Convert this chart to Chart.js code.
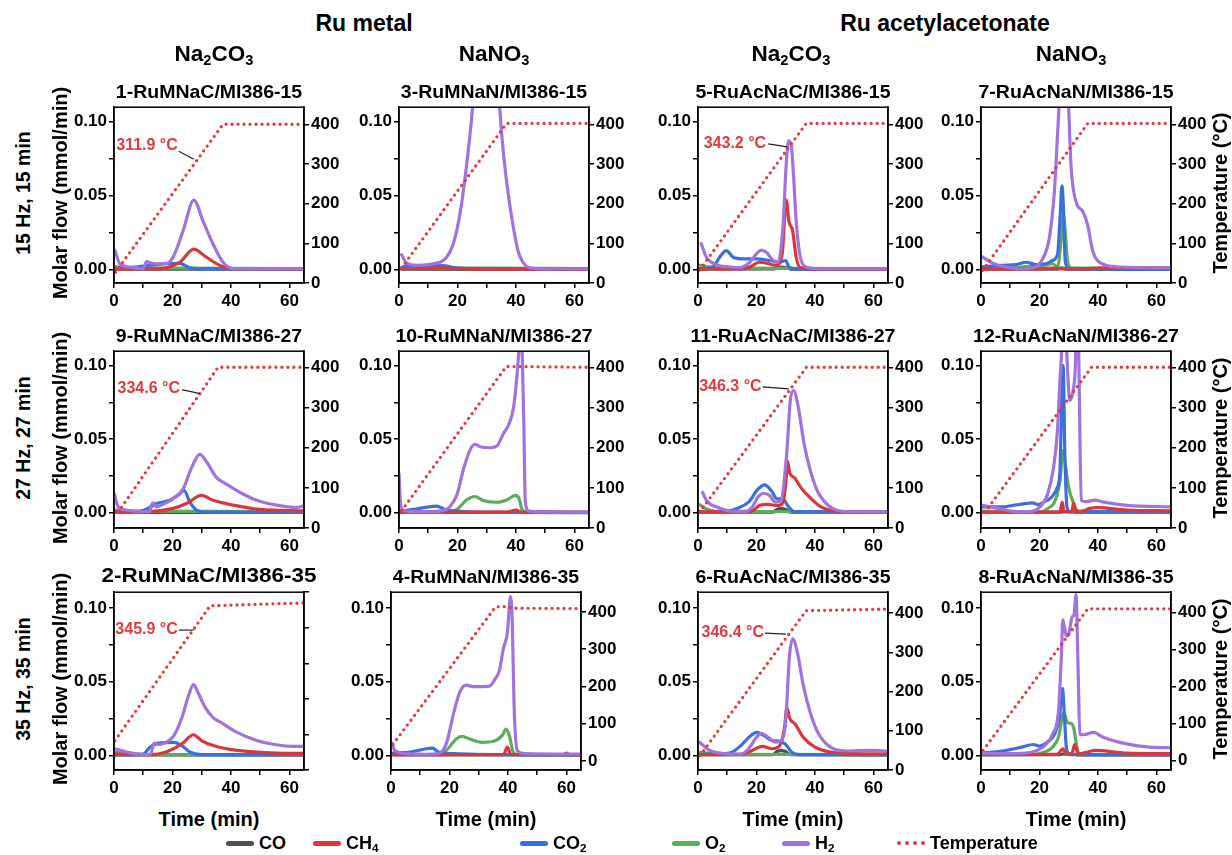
<!DOCTYPE html>
<html><head><meta charset="utf-8">
<script src="https://cdn.jsdelivr.net/npm/chart.js@4.4.1/dist/chart.umd.min.js"></script>
<style>
html,body{margin:0;padding:0;background:#fff;}
body{width:1232px;height:855px;position:relative;overflow:hidden;font-family:'Liberation Sans',Arial,sans-serif;font-weight:bold;color:#000;}
.tx{position:absolute;white-space:nowrap;line-height:1;}
.sb{font-size:0.65em;position:relative;top:0.28em;}
.wrap{position:absolute;}
.lg{position:absolute;height:5px;border-radius:3px;}
</style></head><body>
<script>
// ---------------- DATA ----------------
const timeTicks = [0, 20, 40, 60];
const flowTicks = [0.00, 0.05, 0.10];
const tempTicks = [0, 100, 200, 300, 400];
const seriesNames = ['CO', 'CH4', 'CO2', 'O2', 'H2', 'Temperature'];

const panelGrid = [['s1','s3','s5','s7'],['s9','s10','s11','s12'],['s2','s4','s6','s8']];
const panelTitles = {s1:'1-RuMNaC/MI386-15', s3:'3-RuMNaN/MI386-15', s5:'5-RuAcNaC/MI386-15', s7:'7-RuAcNaN/MI386-15',
  s9:'9-RuMNaC/MI386-27', s10:'10-RuMNaN/MI386-27', s11:'11-RuAcNaC/MI386-27', s12:'12-RuAcNaN/MI386-27',
  s2:'2-RuMNaC/MI386-35', s4:'4-RuMNaN/MI386-35', s6:'6-RuAcNaC/MI386-35', s8:'8-RuAcNaN/MI386-35'};
const rowLabels = ['15 Hz, 15 min', '27 Hz, 27 min', '35 Hz, 35 min'];
const groupLabels = ['Ru metal', 'Ru acetylacetonate'];
const saltLabels = ['Na<span class="sb">2</span>CO<span class="sb">3</span>', 'NaNO<span class="sb">3</span>', 'Na<span class="sb">2</span>CO<span class="sb">3</span>', 'NaNO<span class="sb">3</span>'];

// left-axis (molar flow) range per row, right-axis (temperature) range per panel
const flowMin = [-0.009, -0.0104, -0.0100];
const flowMax = [0.1097, 0.1097, 0.1106];
const tempMin = {s1:0,s3:0,s5:0,s7:0, s9:0,s10:0,s11:0,s12:0, s2:-46,s4:-24,s6:0,s8:-25};
const tempMax = {s1:443,s3:443,s5:443,s7:443, s9:440,s10:440,s11:440,s12:440, s2:452,s4:453,s6:453,s8:455};

// annotated temperature at H2 peak
const annSample = ['s1','s5','s9','s11','s2','s6'];
const annTime   = [27.3, 30.5, 29.4, 31.0, 27.3, 30.1];
const annTemp   = [311.9, 343.2, 334.6, 346.3, 345.9, 346.4];

// ---- 1-RuMNaC/MI386-15
const s1_CO  = [[0.3,0.0004],[65,0.0003]];
const s1_CH4 = [[0.3,0.0005],[15,0.0005],[18,0.0013],[22.5,0.005],[27.3,0.0139],[31.6,0.0084],[36.2,0.0029],[40.8,0.0007],[65,0.0005]];
const s1_CO2 = [[0.3,0.0008],[6,0.0015],[12.2,0.003],[18,0.004],[22.5,0.0042],[25.9,0.0013],[30,0.0005],[65,0.0004]];
const s1_O2  = [[0.3,0.002],[5,0.0012],[65,0.0008]];
const s1_H2  = [[0.3,0.0132],[2,0.004],[6.5,0.0015],[10,0.0008],[11.1,0.0055],[12.5,0.0045],[14.5,0.004],[18,0.0042],[20.2,0.0084],[23.6,0.026],[27.3,0.047],[30.5,0.0326],[33.9,0.0172],[37.3,0.005],[40.8,0.0007],[65,0.0007]];
const s1_T   = [[0.5,27],[37.3,400],[65,400]];
// ---- 3-RuMNaN/MI386-15
const s3_CO  = [[0.9,0.0003],[65,0.0002]];
const s3_CH4 = [[0.9,0.0005],[15,0.0012],[20,0.0008],[25,0.0004],[65,0.0003]];
const s3_CO2 = [[0.9,0.0015],[3,0.0028],[10,0.003],[16,0.0026],[20,0.001],[30,0.0006],[65,0.0005]];
const s3_O2  = [[0.9,0.0012],[65,0.0008]];
const s3_H2  = [[0.9,0.0101],[2.6,0.0044],[6,0.0029],[9.4,0.0033],[11.7,0.004],[14,0.005],[16.3,0.0084],[18.5,0.017],[20.8,0.037],[23.1,0.07],[25.1,0.108],[27,0.16],[30,0.2],[33,0.16],[34.5,0.108],[35.6,0.081],[37.3,0.052],[39,0.03],[40.7,0.0128],[42.4,0.005],[44.7,0.0013],[50,0.0006],[65,0.0005]];
const s3_T   = [[0.9,38],[36.8,402],[65,402]];
// ---- 5-RuAcNaC/MI386-15
const s5_CO  = [[0.6,0.0003],[26,0.0005],[28.5,0.0018],[30.5,0.0012],[32,0.0003],[65,0.0002]];
const s5_CH4 = [[0.6,0.0005],[15,0.0006],[17.7,0.0018],[21,0.005],[23.4,0.0044],[26.8,0.0029],[28.8,0.0106],[30.2,0.047],[31.1,0.0326],[32.3,0.027],[33.6,0.0084],[35,0.0013],[40,0.0005],[65,0.0004]];
const s5_CO2 = [[0.6,0.0007],[5.1,0.0018],[7.4,0.0084],[9.7,0.0128],[12,0.0084],[15.4,0.0073],[20,0.0073],[24.5,0.0062],[27.9,0.005],[30,0.0062],[31.1,0.0018],[33.6,0.0004],[65,0.0003]];
const s5_O2  = [[0.6,0.003],[4,0.0018],[8,0.001],[65,0.0007]];
const s5_H2  = [[1.1,0.0176],[2.9,0.0084],[6.3,0.0033],[10.8,0.0018],[14.3,0.0013],[17.7,0.005],[20,0.0106],[21.7,0.0132],[23.4,0.0117],[25.7,0.0062],[27.4,0.005],[29.1,0.03],[30.2,0.072],[31,0.087],[31.9,0.084],[32.7,0.063],[33.6,0.0326],[34.8,0.0106],[36.5,0.0022],[40.5,0.0007],[65,0.0006]];
const s5_T   = [[0.6,33],[37,402],[65,402]];
// ---- 7-RuAcNaN/MI386-15
const s7_CO  = [[0.3,0.0003],[26,0.0004],[27.5,0.0012],[29,0.0003],[65,0.0002]];
const s7_CH4 = [[0.3,0.0004],[20,0.0006],[24.5,0.0011],[27,0.0006],[35,0.0005],[42,0.0012],[55,0.0013],[65,0.0012]];
const s7_CO2 = [[0.3,0.0018],[7.4,0.0029],[12,0.0035],[15.4,0.005],[18.8,0.0035],[22.2,0.004],[24.5,0.0062],[26.2,0.0106],[27.1,0.037],[27.7,0.0566],[28.3,0.037],[28.8,0.006],[30.2,0.0004],[65,0.0003]];
const s7_O2  = [[0.3,0.002],[7.4,0.0013],[15.4,0.002],[21.1,0.0029],[24.5,0.004],[26.2,0.0018],[27.4,0.0195],[28.2,0.037],[28.8,0.026],[29.6,0.0062],[30.8,0.0013],[35,0.001],[65,0.0008]];
const s7_H2  = [[0.3,0.0088],[4,0.0044],[8.6,0.0018],[13.1,0.0004],[17.7,0.0013],[21.1,0.0073],[23.4,0.0217],[25.1,0.0527],[26.2,0.092],[26.8,0.115],[28.3,0.2],[29.9,0.115],[30.8,0.07],[32.5,0.046],[34.8,0.0394],[36.5,0.03],[38.2,0.0128],[41,0.0044],[47.3,0.0018],[65,0.0011]];
const s7_T   = [[0.6,32],[36.5,402],[65,402]];
// ---- 9-RuMNaC/MI386-27
const s9_CO  = [[0.2,0.0003],[65,0.0002]];
const s9_CH4 = [[0.2,0.0005],[12,0.0005],[13.4,0.0007],[20.2,0.0029],[24.8,0.0062],[29.9,0.0117],[33.9,0.0084],[40.8,0.0051],[49.9,0.0022],[65,0.0013]];
const s9_CO2 = [[0.2,0.0007],[8.8,0.0009],[12.2,0.0035],[14.5,0.0062],[19.1,0.0084],[22.5,0.0128],[24,0.015],[25.9,0.0073],[28.2,0.0018],[31.6,0.0004],[65,0.0003]];
const s9_O2  = [[0.2,0.002],[4,0.001],[65,0.0007]];
const s9_H2  = [[0.2,0.0123],[1.4,0.004],[4.2,0.0018],[8.8,0.0007],[12.2,0.0007],[12.8,0.0051],[13.6,0.0066],[14.5,0.004],[16.8,0.0057],[20.2,0.0095],[23.6,0.016],[26.5,0.0304],[29.4,0.0396],[31.6,0.0348],[35.1,0.0238],[38.5,0.0194],[43,0.0139],[48.8,0.0084],[55.6,0.0051],[62.5,0.0035],[65,0.0046]];
const s9_T   = [[1.4,39],[35.6,400],[65,400]];
// ---- 10-RuMNaN/MI386-27
const s10_CO  = [[0,0.0002],[65,0.0002]];
const s10_CH4 = [[0,0.0003],[37,0.0004],[40,0.0018],[42,0.0004],[65,0.0003]];
const s10_CO2 = [[0.5,0.0011],[4.9,0.0022],[9.5,0.0038],[12.9,0.0044],[15.8,0.0022],[19.8,0.0011],[33.5,0.0002],[65,0.0001]];
const s10_O2  = [[0,0.0005],[16.4,0.0003],[19.8,0.0022],[23.2,0.0088],[25.9,0.011],[28.9,0.0082],[33.5,0.0071],[37,0.0088],[39.8,0.0117],[41,0.0099],[42.1,0.0022],[43.8,0.0002],[65,0.0002]];
const s10_H2  = [[0,0.0265],[0.6,0.0044],[2.6,0.0011],[8.4,0.0007],[14.1,0.0011],[17.5,0.0044],[19.8,0.0121],[22.1,0.0298],[24.4,0.043],[26.1,0.0464],[27.8,0.0448],[31.2,0.0441],[33.5,0.0453],[35.8,0.054],[37.5,0.0596],[39.2,0.0717],[40.4,0.0938],[41.1,0.112],[41.6,0.125],[42.1,0.112],[42.7,0.0607],[43.2,0.0077],[44.4,0.0011],[50,0.0005],[65,0.0004]];
const s10_T   = [[0.9,43],[36.7,402],[65,400]];
// ---- 11-RuAcNaC/MI386-27
const s11_CO  = [[0.5,0.0003],[25.5,0.0004],[27,0.0022],[28.5,0.0028],[30,0.0022],[31.5,0.0004],[65,0.0002]];
const s11_CH4 = [[0.5,0.0005],[15,0.0005],[18.6,0.0013],[21.2,0.005],[23.8,0.0057],[27.1,0.0048],[29,0.0066],[30.1,0.0215],[30.6,0.0351],[31.4,0.027],[33,0.0237],[35.6,0.016],[38.2,0.0105],[42.1,0.0039],[46,0.0013],[55,0.0005],[65,0.0004]];
const s11_CO2 = [[0.5,0.0007],[9.4,0.0009],[13.3,0.0029],[17.3,0.0072],[20.5,0.016],[22.8,0.0189],[25.1,0.0149],[27.1,0.0094],[29,0.0094],[31,0.0039],[33,0.0007],[65,0.0004]];
const s11_O2  = [[0.5,0.0055],[2.9,0.0026],[6.8,0.0008],[65,0.0005]];
const s11_H2  = [[1.6,0.0138],[2.9,0.0083],[6.8,0.0035],[12,0.0009],[16,0.0009],[18.6,0.0039],[20.5,0.0105],[22.5,0.0132],[24.5,0.0116],[26.4,0.0072],[28.4,0.0083],[30.3,0.039],[31.7,0.0785],[32.7,0.0829],[34.3,0.0719],[36.2,0.0478],[38.2,0.0303],[40.8,0.0149],[43.4,0.0072],[46,0.0029],[50,0.0007],[65,0.0006]];
const s11_T   = [[0.5,39],[37.1,400],[65,400]];
// ---- 12-RuAcNaN/MI386-27
const s12_CO  = [[0.4,0.0003],[27,0.0004],[28.5,0.0008],[31,0.0006],[33,0.0003],[65,0.0002]];
const s12_CH4 = [[0.4,0.0004],[27,0.0005],[27.8,0.0072],[28.4,0.0006],[31,0.0006],[31.7,0.0066],[32.4,0.0006],[35,0.0012],[37.2,0.0029],[39.8,0.0035],[50,0.0018],[65,0.0013]];
const s12_CO2 = [[0.4,0.0039],[7.2,0.0039],[11.1,0.005],[15,0.0061],[17.6,0.0066],[19.6,0.0055],[21.5,0.0072],[24.1,0.0105],[26.1,0.0171],[27,0.028],[27.7,0.083],[28.1,0.1],[28.7,0.039],[29.4,0.0039],[30.5,0.0007],[65,0.0004]];
const s12_O2  = [[0.4,0.001],[20,0.0005],[22.8,0.0029],[25.4,0.0083],[27,0.0215],[28.1,0.0423],[29,0.0303],[30,0.0171],[31.3,0.0083],[32.6,0.0022],[34.6,0.0005],[65,0.0004]];
const s12_H2  = [[0.4,0.005],[5.9,0.0029],[11.1,0.0009],[16.3,0.0007],[20.2,0.0039],[22.8,0.0127],[24.8,0.0303],[26.1,0.0544],[27,0.0895],[27.7,0.115],[28.3,0.16],[29.2,0.115],[30.4,0.0763],[31.5,0.083],[32.3,0.1],[33,0.16],[33.5,0.1],[34.3,0.0083],[36,0.0075],[39,0.0085],[42,0.0072],[50,0.005],[65,0.004]];
const s12_T   = [[1.3,39],[37.8,400],[65,400]];
// ---- 2-RuMNaC/MI386-35
const s2_CO  = [[0.3,0.0002],[65,0.0002]];
const s2_CH4 = [[0.3,0.001],[5,0.0005],[12.4,0.0004],[17.8,0.0022],[23.2,0.0077],[27.2,0.0139],[29.9,0.01],[34,0.0066],[42.1,0.0033],[55.6,0.0015],[65,0.0013]];
const s2_CO2 = [[0.3,0.0002],[9.7,0.0006],[12.4,0.0055],[15.1,0.0082],[20.5,0.0088],[23.2,0.0066],[25.9,0.0022],[29.9,0.0004],[65,0.0003]];
const s2_O2  = [[0.3,0.002],[5.7,0.0012],[15,0.0003],[65,0.0002]];
const s2_H2  = [[0.3,0.0044],[4.3,0.0022],[9.7,0.0004],[12.4,0.0006],[13.8,0.0082],[15.1,0.0073],[17.8,0.0088],[20.5,0.0133],[23.2,0.0254],[25.6,0.041],[27.2,0.048],[28.6,0.0431],[31.3,0.0321],[34,0.0254],[36.7,0.0221],[42.1,0.0155],[48.8,0.01],[55.6,0.0071],[61,0.006],[65,0.006]];
const s2_T   = [[0.3,36],[32.9,414],[65,422]];
// ---- 4-RuMNaN/MI386-35
const s4_CO  = [[0.7,0.0002],[65,0.0002]];
const s4_CH4 = [[0.7,0.0004],[38.5,0.0005],[39.8,0.0055],[41,0.0005],[59,0.0004],[60,0.0015],[61,0.0004],[65,0.0003]];
const s4_CO2 = [[0.7,0.0015],[6.7,0.0022],[12.1,0.0044],[14.2,0.0049],[16.2,0.0022],[21.6,0.0011],[40.5,0.0004],[65,0.0003]];
const s4_O2  = [[0.7,0.001],[14.8,0.0004],[18.9,0.0033],[22.3,0.011],[24.3,0.0128],[27,0.011],[31,0.0088],[35.1,0.0095],[38,0.0133],[39.4,0.0177],[40.5,0.0133],[41.8,0.0022],[43.8,0.0002],[65,0.0002]];
const s4_H2  = [[0.3,0.0082],[1.3,0.0033],[5.4,0.0011],[12.1,0.0007],[16.2,0.0011],[18.9,0.0077],[21.6,0.0299],[23.6,0.0431],[25.6,0.0476],[28.3,0.0465],[33.7,0.0469],[35.7,0.052],[37.1,0.0575],[38.4,0.0719],[39.8,0.083],[40.9,0.1077],[41.5,0.0896],[42.1,0.0343],[43.2,0.0033],[45.9,0.0011],[65,0.0007]];
const s4_T   = [[0.7,45],[35.7,413],[38,415],[42,410],[65,409]];
// ---- 6-RuAcNaC/MI386-35
const s6_CO  = [[0.5,0.0002],[25.5,0.0004],[27,0.0025],[28.5,0.0031],[30,0.0025],[31.5,0.0004],[65,0.0002]];
const s6_CH4 = [[0.5,0.0005],[14.7,0.0007],[18.6,0.0033],[22,0.006],[25.3,0.0044],[28,0.0066],[29.6,0.0188],[30.4,0.0325],[31.3,0.0254],[33.3,0.021],[36,0.0122],[40,0.0055],[45.3,0.0022],[53.3,0.0011],[65,0.0009]];
const s6_CO2 = [[0.5,0.0006],[10.7,0.0015],[14.7,0.0066],[18,0.0133],[20.2,0.0155],[22.6,0.0133],[25.3,0.01],[28,0.0095],[30,0.0073],[32,0.0022],[34.6,0.0004],[65,0.0003]];
const s6_O2  = [[0.5,0.002],[8,0.0007],[65,0.0004]];
const s6_H2  = [[0.5,0.0089],[4,0.0033],[9.3,0.0011],[14.7,0.0007],[17.3,0.0044],[20,0.0122],[21.6,0.0148],[24,0.0122],[26.6,0.0089],[28.6,0.01],[30,0.0232],[31.3,0.0675],[32.4,0.079],[34,0.0697],[36,0.0476],[38.6,0.0277],[41.3,0.0144],[45.3,0.0055],[50.6,0.0029],[58.6,0.0033],[65,0.0029]];
const s6_T   = [[0.7,37],[37,406],[65,410]];
// ---- 8-RuAcNaN/MI386-35
const s8_CO  = [[0.5,0.0003],[27,0.0004],[28.5,0.0009],[31,0.0008],[33,0.0003],[65,0.0002]];
const s8_CH4 = [[0.5,0.0005],[26,0.0006],[28.1,0.0044],[29,0.0008],[31,0.001],[32.1,0.0073],[33.2,0.001],[36.5,0.0022],[39.1,0.0033],[49.8,0.0015],[65,0.0011]];
const s8_CO2 = [[0.5,0.0015],[7.3,0.0029],[13.9,0.0055],[17.9,0.0073],[19.9,0.0062],[22.6,0.0088],[25.2,0.0144],[26.8,0.0254],[27.9,0.0453],[28.5,0.0277],[29.2,0.0055],[30.5,0.0004],[65,0.0003]];
const s8_O2  = [[0.5,0.0006],[18,0.0005],[20.6,0.0015],[24.5,0.0055],[26.5,0.0122],[28.3,0.0288],[29.6,0.0221],[30.9,0.0215],[31.8,0.0177],[32.8,0.0055],[33.8,0.0004],[65,0.0003]];
const s8_H2  = [[0.5,0.0015],[7.3,0.0011],[15.3,0.0015],[19.2,0.0033],[21.9,0.0066],[24.5,0.0144],[26.5,0.0299],[27.5,0.0675],[28,0.0918],[28.5,0.0874],[29.2,0.0808],[30.1,0.083],[31.2,0.094],[31.8,0.0951],[32.5,0.109],[33.2,0.06],[33.8,0.0144],[35.2,0.0139],[38.5,0.0155],[41.8,0.0122],[49.8,0.0077],[57.7,0.0055],[65,0.0051]];
const s8_T   = [[0.7,28],[36.5,410],[65,410]];

// table built from the arrays above
const DATA = {
  s1:[s1_CO,s1_CH4,s1_CO2,s1_O2,s1_H2,s1_T], s3:[s3_CO,s3_CH4,s3_CO2,s3_O2,s3_H2,s3_T],
  s5:[s5_CO,s5_CH4,s5_CO2,s5_O2,s5_H2,s5_T], s7:[s7_CO,s7_CH4,s7_CO2,s7_O2,s7_H2,s7_T],
  s9:[s9_CO,s9_CH4,s9_CO2,s9_O2,s9_H2,s9_T], s10:[s10_CO,s10_CH4,s10_CO2,s10_O2,s10_H2,s10_T],
  s11:[s11_CO,s11_CH4,s11_CO2,s11_O2,s11_H2,s11_T], s12:[s12_CO,s12_CH4,s12_CO2,s12_O2,s12_H2,s12_T],
  s2:[s2_CO,s2_CH4,s2_CO2,s2_O2,s2_H2,s2_T], s4:[s4_CO,s4_CH4,s4_CO2,s4_O2,s4_H2,s4_T],
  s6:[s6_CO,s6_CH4,s6_CO2,s6_O2,s6_H2,s6_T], s8:[s8_CO,s8_CH4,s8_CO2,s8_O2,s8_H2,s8_T]
};

// ---------------- STYLE / LAYOUT ----------------
const FONT = "'Liberation Sans', Arial, sans-serif";
const colors = {CO:'#505050', CH4:'#d8383c', CO2:'#3c6fdd', O2:'#5dab5d', H2:'#a073df', Temperature:'#e4393d'};
const colLeft = [114, 399, 698, 981];
const colLeftRow3 = [114, 391, 698, 981];
const rowTop = [103, 347, 588];
const rowBottom = [283, 528, 770];
const PW = 190, LW = 60, RW = 60, TP = 8, XH = 34;
const annStyle = { // offsets (px) of text/leader relative to the annotated point
  s1:{lx:-15,ly:-8,tx:-16,ty:-14}, s5:{lx:-19,ly:-3,tx:-21,ty:-3}, s9:{lx:-18,ly:-4,tx:-20,ty:-5},
  s11:{lx:-26,ly:-2,tx:-27,ty:-2}, s2:{lx:-15,ly:0,tx:-16,ty:0}, s6:{lx:-21,ly:-1,tx:-22,ty:-1}
};

Chart.defaults.font.family = FONT;

function addText(html, x, y, size, extra, rot) {
  const d = document.createElement('div');
  d.className = 'tx';
  d.innerHTML = html;
  d.style.left = x + 'px'; d.style.top = y + 'px'; d.style.fontSize = size + 'px';
  d.style.transform = 'translate(-50%,-50%)' + (rot ? ' rotate(-90deg)' : '') + (extra || '');
  document.body.appendChild(d);
  return d;
}

const framePlugin = {
  id: 'frame',
  afterDraw(chart) {
    const a = chart.chartArea, ctx = chart.ctx;
    ctx.save(); ctx.strokeStyle = '#000'; ctx.lineWidth = 1.5;
    ctx.strokeRect(a.left, a.top, a.right - a.left, a.bottom - a.top);
    ctx.restore();
  }
};

function annPlugin(id) {
  return {
    id: 'ann',
    afterDatasetsDraw(chart) {
      const i = annSample.indexOf(id);
      if (i < 0) return;
      const st = annStyle[id];
      const px = chart.scales.x.getPixelForValue(annTime[i]);
      const py = chart.scales.y2.getPixelForValue(annTemp[i]);
      const ctx = chart.ctx;
      ctx.save();
      ctx.strokeStyle = '#222'; ctx.lineWidth = 1.2;
      ctx.beginPath(); ctx.moveTo(px + st.lx, py + st.ly); ctx.lineTo(px, py); ctx.stroke();
      ctx.fillStyle = colors.Temperature;
      ctx.font = "bold 16px " + FONT;
      ctx.textAlign = 'right'; ctx.textBaseline = 'middle';
      ctx.fillText(annTemp[i].toFixed(1) + ' \u00B0C', px + st.tx, py + st.ty);
      ctx.restore();
    }
  };
}

function makePanel(id, r, c) {
  const left = (r === 2 ? colLeftRow3 : colLeft)[c];
  const top = rowTop[r], PH = rowBottom[r] - rowTop[r];
  const W = PW + LW + RW, H = PH + TP + XH;
  const wrap = document.createElement('div');
  wrap.className = 'wrap';
  wrap.style.left = (left - LW) + 'px'; wrap.style.top = (top - TP) + 'px';
  const cv = document.createElement('canvas');
  cv.width = W; cv.height = H; cv.style.width = W + 'px'; cv.style.height = H + 'px';
  wrap.appendChild(cv); document.body.appendChild(wrap);

  const d = DATA[id];
  const line = (name, arr, w) => ({label: name, data: arr, yAxisID: 'y', borderColor: colors[name], backgroundColor: colors[name],
    borderWidth: w || 3.2, pointRadius: 0, cubicInterpolationMode: 'monotone', fill: false, borderCapStyle: 'round', borderJoinStyle: 'round'});
  const datasets = [
    {label: 'Temperature', data: d[5], yAxisID: 'y2', borderColor: colors.Temperature, borderWidth: 3.3,
     borderDash: [0, 6], borderCapStyle: 'round', pointRadius: 0, tension: 0, fill: false},
    line('H2', d[4]), line('CH4', d[1]), line('CO2', d[2]), line('O2', d[3]), line('CO', d[0])
  ];
  const tickFont = {family: FONT, size: 17, weight: 'bold'};
  const grid = {drawOnChartArea: false, drawTicks: true, tickLength: 5, color: '#000', lineWidth: 1.5};
  const border = {display: true, color: '#000', width: 1.5};
  new Chart(cv, {
    type: 'line',
    data: {datasets},
    options: {
      responsive: false, animation: false, devicePixelRatio: 1, events: [],
      layout: {padding: {top: TP, left: 0, right: 0, bottom: 0}},
      plugins: {legend: {display: false}, tooltip: {enabled: false}},
      scales: {
        x: {type: 'linear', min: 0, max: 65, afterFit: s => { s.height = XH; },
            ticks: {stepSize: 10, includeBounds: false, autoSkip: false, maxRotation: 0, padding: 3, font: tickFont, color: '#000',
                    callback: v => timeTicks.includes(v) ? String(v) : ''}, grid, border},
        y: {type: 'linear', position: 'left', min: flowMin[r], max: flowMax[r], afterFit: s => { s.width = LW; },
            ticks: {stepSize: 0.025, includeBounds: false, padding: 2, font: tickFont, color: '#000',
                    callback: v => { const k = Math.round(v * 1000); return flowTicks.some(f => Math.round(f * 1000) === k) ? (k / 1000).toFixed(2) : ''; }},
            grid, border},
        y2: {type: 'linear', position: 'right', min: tempMin[id], max: tempMax[id], afterFit: s => { s.width = RW; },
             ticks: {stepSize: 50, includeBounds: false, padding: 2, font: tickFont, color: '#000',
                     callback: v => tempTicks.includes(Math.round(v)) ? String(Math.round(v)) : ''}, grid, border}
      }
    },
    plugins: [framePlugin, annPlugin(id)]
  });

  // panel title
  const big = (id === 's2');
  addText(panelTitles[id], left + PW / 2, top - (big ? 12 : 11), big ? 22.5 : 19.5, ' scaleY(0.9)');
}

panelGrid.forEach((row, r) => row.forEach((id, c) => makePanel(id, r, c)));

// headers
addText(groupLabels[0], 364, 23, 23);
addText(groupLabels[1], 945, 23, 23);
const saltX = [214, 494, 791, 1071];
saltLabels.forEach((s, i) => addText(s, saltX[i], 54, 22.5));

// row labels & axis titles
rowLabels.forEach((s, r) => {
  const cy = (rowTop[r] + rowBottom[r]) / 2;
  addText(s, 23.5, cy, 19.5, '', true);
  addText('Molar flow (mmol/min)', 60, cy, 20, '', true);
  addText('Temperature (\u00B0C)', 1220, cy, 20, '', true);
});
colLeftRow3.forEach(l => addText('Time (min)', l + PW / 2, 819, 20));

// legend
const legendHtml = ['CO', 'CH<span class="sb">4</span>', 'CO<span class="sb">2</span>', 'O<span class="sb">2</span>', 'H<span class="sb">2</span>', 'Temperature'];
const legendX = [226, 313, 520, 672, 782, 897];
seriesNames.forEach((n, i) => {
  const m = document.createElement('div');
  m.className = 'lg';
  m.style.left = legendX[i] + 'px'; m.style.width = '28px';
  if (n === 'Temperature') {
    m.style.top = '841px'; m.style.height = '0'; m.style.borderTop = '4px dotted ' + colors[n]; m.style.borderRadius = '0';
  } else {
    m.style.top = '841px'; m.style.background = colors[n];
  }
  document.body.appendChild(m);
  const t = document.createElement('div');
  t.className = 'tx'; t.innerHTML = legendHtml[i];
  t.style.left = (legendX[i] + 33) + 'px'; t.style.top = '843px'; t.style.fontSize = '18px';
  t.style.transform = 'translate(0,-50%)';
  document.body.appendChild(t);
});
</script>
</body></html>
